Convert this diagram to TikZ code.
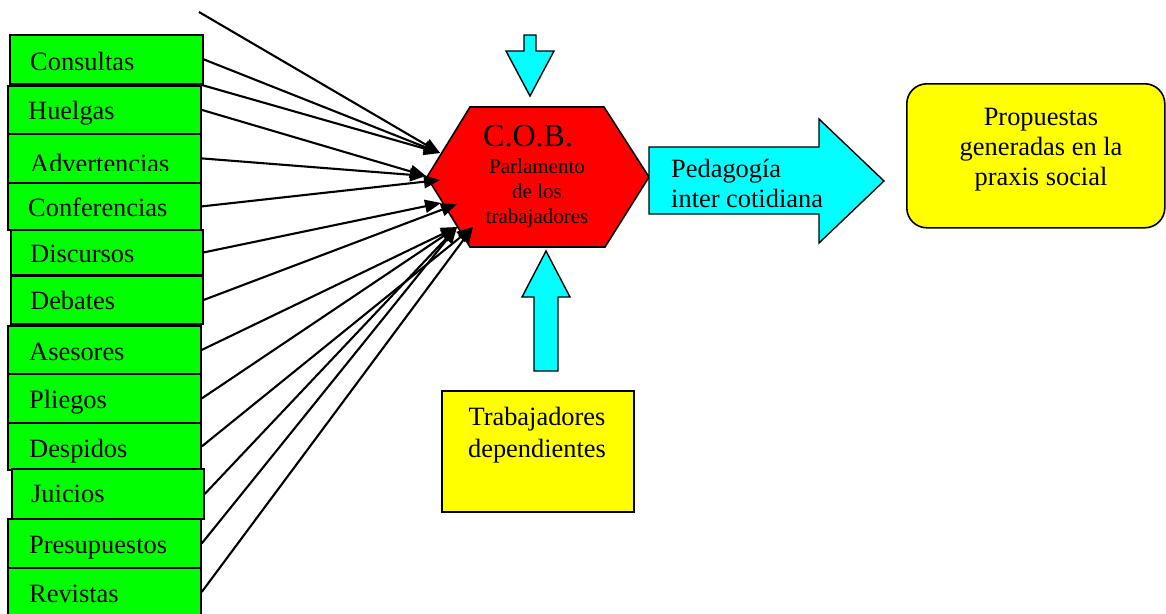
\documentclass[tikz,border=0pt]{standalone}
\usepackage{fontspec}
\setmainfont{Liberation Serif}
\usetikzlibrary{arrows.meta}
\definecolor{gfill}{HTML}{00FF00}
\definecolor{cfill}{HTML}{00FFFF}
\definecolor{yfill}{HTML}{FFFF00}
\definecolor{rfill}{HTML}{FF0000}
\begin{document}
\begin{tikzpicture}[x=1pt,y=-1pt,
  gbox/.style={draw=black, line width=1.8pt, fill=gfill, inner sep=0pt, anchor=north west},
  glabel/.style={anchor=base west, inner sep=0pt, font=\fontsize{26.4}{30}\selectfont},
  conn/.style={line width=2.1pt, -{Triangle[length=16pt,width=13pt]}},
  cyanarrow/.style={draw=black, line width=1.4pt, fill=cfill, line join=miter},
  ybox/.style={draw=black, line width=1.6pt, fill=yfill, inner sep=0pt, anchor=north west},
  ctext/.style={anchor=base, inner sep=0pt, font=\fontsize{26.4}{30}\selectfont},
  htext/.style={anchor=base, inner sep=0pt, font=\fontsize{21}{25}\selectfont}]
\useasboundingbox (0,0) rectangle (1166,613);

% green boxes
\node[gbox, minimum width=193pt, minimum height=49pt] (b1) at (9,34) {};
\node[glabel] (l1) at (30,70) {Consultas};
\node[gbox, minimum width=193pt, minimum height=48pt] (b2) at (7,85) {};
\node[glabel] (l2) at (28,119) {Huelgas};
\node[gbox, minimum width=193pt, minimum height=49pt] (b3) at (7,133) {};
\begin{scope}
  \clip (7,133) rectangle (200,170);
  \node[glabel] (l3) at (30,172) {Advertencias};
\end{scope}
\node[gbox, minimum width=193pt, minimum height=47pt] (b4) at (7,182) {};
\node[glabel] (l4) at (28,216) {Conferencias};
\node[gbox, minimum width=192pt, minimum height=45pt] (b5) at (10,229) {};
\node[glabel] (l5) at (30,262) {Discursos};
\node[gbox, minimum width=192pt, minimum height=48pt] (b6) at (10,275) {};
\node[glabel] (l6) at (30,309) {Debates};
\node[gbox, minimum width=193pt, minimum height=48pt] (b7) at (7,325) {};
\node[glabel] (l7) at (29,360) {Asesores};
\node[gbox, minimum width=193pt, minimum height=49pt] (b8) at (7,373) {};
\node[glabel] (l8) at (29,408) {Pliegos};
\node[gbox, minimum width=193pt, minimum height=47pt] (b9) at (7,422) {};
\node[glabel] (l9) at (29,457) {Despidos};
\node[gbox, minimum width=192pt, minimum height=50pt] (b10) at (11,468) {};
\node[glabel] (l10) at (31,502) {Juicios};
\node[gbox, minimum width=193pt, minimum height=49pt] (b11) at (7,518) {};
\node[glabel] (l11) at (29,553) {Presupuestos};
\node[gbox, minimum width=193pt, minimum height=48pt] (b12) at (7,567) {};
\node[glabel] (l12) at (29,602) {Revistas};

% hexagon
\draw[draw=black, line width=1.6pt, fill=rfill, line join=miter]
  (470,107) -- (604,107) -- (649,177) -- (605,247) -- (470,247) -- (427,177) -- cycle;
\node[anchor=base west, inner sep=0pt, font=\fontsize{32}{36}\selectfont] (cob) at (483,146) {C.O.B.};
\node[htext] (h1) at (537,173) {Parlamento};
\node[htext] (h2) at (537,198) {de los};
\node[htext] (h3) at (537,223) {trabajadores};

% arrow targets on the hexagon
\coordinate (t1) at (440,153);
\coordinate (t2) at (426,176);
\coordinate (t3) at (440,180);
\coordinate (t4) at (441,203);
\coordinate (t5) at (457,204);
\coordinate (t6) at (457,227);
\coordinate (t7) at (473,227);
\coordinate (s0) at (199,12);

% connectors
\draw[conn] (s0) -- (t1);
\draw[conn] (b1.east) -- (t1);
\draw[conn] (b2.north east) -- (t1);
\draw[conn] (b2.east) -- (t2);
\draw[conn] (b3.east) -- (t2);
\draw[conn] (b4.east) -- (t3);
\draw[conn] (b5.east) -- (t4);
\draw[conn] (b6.east) -- (t5);
\draw[conn] (b7.east) -- (t6);
\draw[conn] (b8.east) -- (t6);
\draw[conn] (b9.east) -- (t7);
\draw[conn] (b10.east) -- (t6);
\draw[conn] (b11.east) -- (t6);
\draw[conn] (b12.east) -- (t7);

% top down arrow
\draw[cyanarrow] (524,35) -- (536,35) -- (536,51) -- (554,51) -- (530,96) -- (506,51) -- (524,51) -- cycle;
% bottom up arrow
\draw[cyanarrow] (534,371) -- (534,297) -- (522,297) -- (546,251) -- (570,297) -- (558,297) -- (558,371) -- cycle;
% right big arrow
\draw[cyanarrow] (649,147) -- (819,147) -- (819,119) -- (884,181) -- (819,243) -- (819,214) -- (649,214) -- cycle;
\node[anchor=base west, inner sep=0pt, font=\fontsize{26.4}{30}\selectfont] (p1) at (671,177) {Pedagogía};
\node[anchor=base west, inner sep=0pt, font=\fontsize{26.4}{30}\selectfont] (p2) at (671,207) {inter cotidiana};

% Trabajadores dependientes
\node[ybox, minimum width=192pt, minimum height=121pt] (td) at (441,390) {};
\node[ctext] (td1) at (537,425) {Trabajadores};
\node[ctext] (td2) at (537,457) {dependientes};

% Propuestas box
\node[ybox, rounded corners=20pt, minimum width=258pt, minimum height=144pt] (pr) at (906,83) {};
\node[ctext] (pr1) at (1041,125) {Propuestas};
\node[ctext] (pr2) at (1041,155) {generadas en la};
\node[ctext] (pr3) at (1041,185) {praxis social};
\end{tikzpicture}
\end{document}
